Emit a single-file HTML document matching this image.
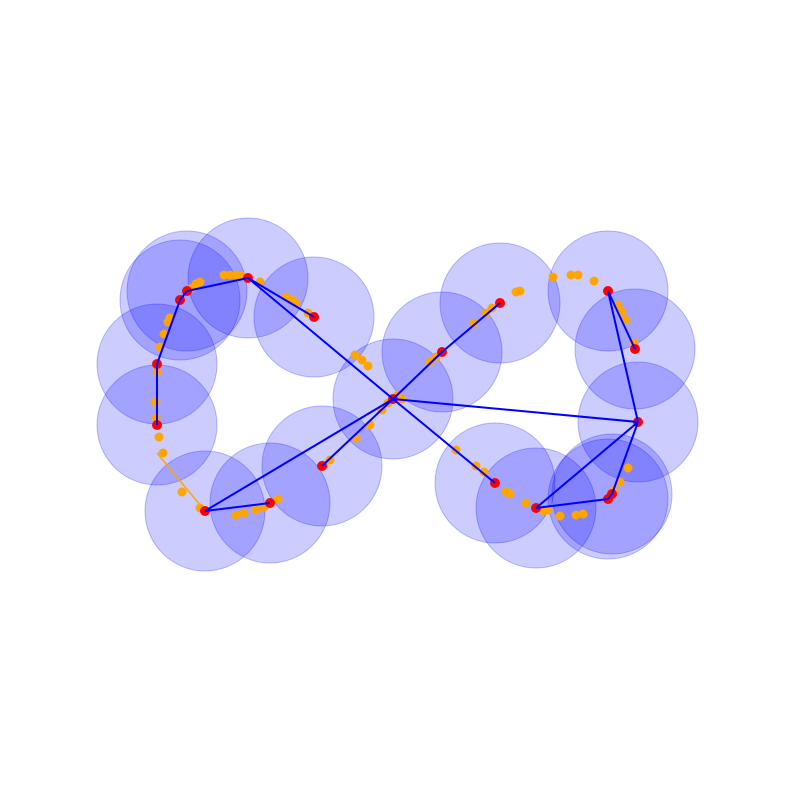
<!DOCTYPE html>
<html><head><meta charset="utf-8"><style>body{margin:0;background:#fff}svg{display:block}</style></head>
<body>
<svg id="chart" width="794" height="790" viewBox="0 0 794 790" xmlns="http://www.w3.org/2000/svg"></svg>
<script>
const nodeX=[187,180,248,314,157,157,205,270,322,393,442,500,608,635,638,612,608,536,495];
const nodeY=[291,300,278,317,364,425,511,503,466,399,352,303,291,349,422,494,499,508,483];
const edgeFrom=[0,1,2,2,4,4,6,6,8,9,10,9,9,12,12,14,14,17,16];
const edgeTo=[2,0,3,9,1,5,7,9,9,10,11,18,14,13,14,15,17,16,15];
const dotX=[224,230,236,242,260,286,292,296,308,200,196,192,170,168,164,160,157,155,156,159,163,182,200,236,244,256,264,278,330,324,356,370,382,388,355,362,368,398,402,430,436,474,486,492,516,520,553,571,578,594,618,622,626,634,628,620,614,560,576,583,544,526,510,506,476,484,456,548];
const dotY=[275,275,275,276,282,297,300,303,313,282,284,288,318,322,334,347,372,402,418,437,453,492,508,515,513,510,507,499,460,465,438,425,410,403,355,360,366,395,399,362,357,323,313,308,292,291,277,275,275,281,305,312,320,343,468,482,490,516,515,514,511,503,494,492,466,472,450,510];
const NS="http://www.w3.org/2000/svg";
const svg=document.getElementById('chart');
function mk(t,a){const e=document.createElementNS(NS,t);for(const k in a)e.setAttribute(k,a[k]);svg.appendChild(e);return e;}
nodeX.forEach((x,i)=>{const c=mk('circle',{cx:x,cy:nodeY[i],r:60,fill:'rgba(0,0,255,0.2)',stroke:'rgba(0,0,255,0.25)'});

});
const ol=mk('line',{x1:nodeX[5],y1:nodeY[5]+28,x2:nodeX[6],y2:nodeY[6],stroke:'orange','stroke-width':1.5});


dotX.forEach((x,i)=>{const c=mk('circle',{cx:x,cy:dotY[i],r:4.5,fill:'orange'});

});
nodeX.forEach((x,i)=>{const c=mk('circle',{cx:x,cy:nodeY[i],r:5,fill:'red'});

});
edgeFrom.forEach((a,i)=>{const b=edgeTo[i];const l=mk('line',{x1:nodeX[a],y1:nodeY[a],x2:nodeX[b],y2:nodeY[b],stroke:'#0000ff','stroke-width':2});

});
</script>
</body></html>
